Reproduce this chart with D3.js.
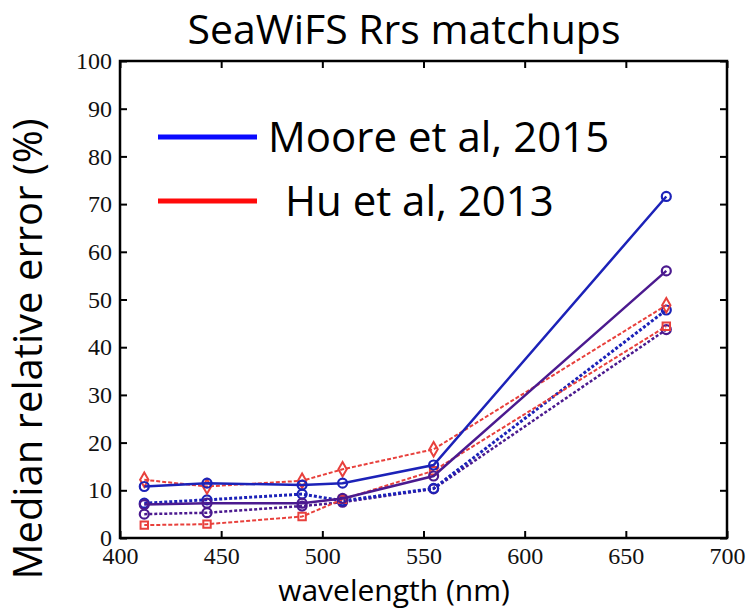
<!DOCTYPE html>
<html lang="en">
<head>
<meta charset="utf-8">
<title>SeaWiFS Rrs matchups</title>
<script src="https://d3js.org/d3.v7.min.js"></script>
<style>
  body, html { margin: 0; padding: 0; background: #fff; }
  svg { display: block; }
  .tick text { font-family: "Liberation Serif", serif; font-size: 24px; fill: #111; }
  .lbl { font-family: "Open Sans", "Noto Sans", sans-serif; fill: #000; }
</style>
</head>
<body>
<svg id="chart" width="749" height="610"></svg>
<script>
// wavelengths (nm)
var wavelengths = [412, 443, 490, 510, 555, 670];

// median relative error (%) for each retrieval
var mooreSolid   = [10.8, 11.5, 11.1, 11.5, 15.3, 71.6];
var purpleSolid  = [7.0, 7.3, 7.3, 8.3, 13.0, 56.0];
var mooreDotted  = [7.3, 8.0, 9.2, 7.8, 10.4, 47.8];
var purpleDotted = [5.0, 5.3, 6.7, 7.5, 10.3, 43.7];
var huDiamond    = [12.2, 10.8, 12.0, 14.4, 18.6, 48.8];
var huSquare     = [2.7, 2.9, 4.5, 8.1, 14.1, 44.4];

var xTicks = [400, 450, 500, 550, 600, 650, 700];
var yTicks = [0, 10, 20, 30, 40, 50, 60, 70, 80, 90, 100];

var legendNames = ["Moore et al, 2015", "Hu et al, 2013"];
var legendColors = ["#0a0aff", "#ff0a0a"];

var series = [
  {vals: purpleDotted, color: "#4b1a8f", dash: "3,2", width: 2.5, marker: "circle"},
  {vals: mooreDotted,  color: "#1c22b8", dash: "3,2", width: 3,   marker: "circle"},
  {vals: huSquare,     color: "#e8403c", dash: "4,2", width: 2,   marker: "square"},
  {vals: huDiamond,    color: "#e8403c", dash: "4,2", width: 2,   marker: "diamond"},
  {vals: purpleSolid,  color: "#4b1a8f", dash: null,  width: 2.5, marker: "circle"},
  {vals: mooreSolid,   color: "#1c22b8", dash: null,  width: 2.5, marker: "circle"}
];

var svg = d3.select("#chart");
var pL = 120, pR = 727, pT = 61, pB = 538;

var x = d3.scaleLinear().domain([400, 700]).range([pL, pR]);
var y = d3.scaleLinear().domain([0, 100]).range([pB, pT]);

// axes with inward ticks
svg.append("g")
  .attr("transform", "translate(0," + pB + ")")
  .call(d3.axisBottom(x).tickValues(xTicks).tickSizeInner(-7).tickSizeOuter(0).tickPadding(9))
  .call(function(g) { g.select(".domain").remove(); });
svg.append("g")
  .attr("transform", "translate(" + pL + ",0)")
  .call(d3.axisLeft(y).tickValues(yTicks).tickSizeInner(-7).tickSizeOuter(0).tickPadding(8))
  .call(function(g) { g.select(".domain").remove(); });
svg.append("g")
  .attr("transform", "translate(0," + pT + ")")
  .call(d3.axisTop(x).tickValues(xTicks).tickSizeInner(-7).tickSizeOuter(0).tickFormat(""))
  .call(function(g) { g.select(".domain").remove(); });
svg.append("g")
  .attr("transform", "translate(" + pR + ",0)")
  .call(d3.axisRight(y).tickValues(yTicks).tickSizeInner(-7).tickSizeOuter(0).tickFormat(""))
  .call(function(g) { g.select(".domain").remove(); });
svg.selectAll(".tick line").attr("stroke", "#000").attr("stroke-width", 2);

svg.append("rect")
  .attr("x", pL).attr("y", pT)
  .attr("width", pR - pL).attr("height", pB - pT)
  .attr("fill", "none").attr("stroke", "#000").attr("stroke-width", 2.5);

// series
var line = d3.line()
  .x(function(d, i) { return x(wavelengths[i]); })
  .y(function(d) { return y(d); });

series.forEach(function(s) {
  svg.append("path")
    .attr("d", line(s.vals))
    .attr("fill", "none")
    .attr("stroke", s.color)
    .attr("stroke-width", s.width)
    .attr("stroke-dasharray", s.dash);

  var sym = s.marker === "circle" ? null : (s.marker === "square" ? d3.symbolSquare : d3.symbolDiamond);
  s.vals.forEach(function(v, i) {
    if (sym) {
      svg.append("path")
        .attr("d", d3.symbol().type(sym).size(s.marker === "square" ? 55 : 60)())
        .attr("transform", "translate(" + x(wavelengths[i]) + "," + y(v) + ")")
        .attr("fill", "none").attr("stroke", s.color).attr("stroke-width", 2);
    } else {
      svg.append("circle")
        .attr("cx", x(wavelengths[i])).attr("cy", y(v)).attr("r", 4.5)
        .attr("fill", "none").attr("stroke", s.color).attr("stroke-width", 2.2);
    }
  });
});

// legend
legendNames.forEach(function(name, i) {
  var ly = 137 + i * 64;
  svg.append("line")
    .attr("x1", 158).attr("x2", 257).attr("y1", ly).attr("y2", ly)
    .attr("stroke", legendColors[i]).attr("stroke-width", 5);
  svg.append("text").attr("class", "lbl")
    .attr("x", i === 0 ? 268 : 285).attr("y", ly + 15)
    .attr("font-size", 42)
    .text(name);
});

// titles
svg.append("text").attr("class", "lbl")
  .attr("x", 404).attr("y", 44).attr("text-anchor", "middle")
  .attr("font-size", 41)
  .text("SeaWiFS Rrs matchups");
svg.append("text").attr("class", "lbl")
  .attr("x", 394).attr("y", 601).attr("text-anchor", "middle")
  .attr("font-size", 30)
  .text("wavelength (nm)");
svg.append("text").attr("class", "lbl")
  .attr("transform", "translate(42,349) rotate(-90)")
  .attr("text-anchor", "middle")
  .attr("font-size", 40)
  .text("Median relative error (%)");
</script>
</body>
</html>
